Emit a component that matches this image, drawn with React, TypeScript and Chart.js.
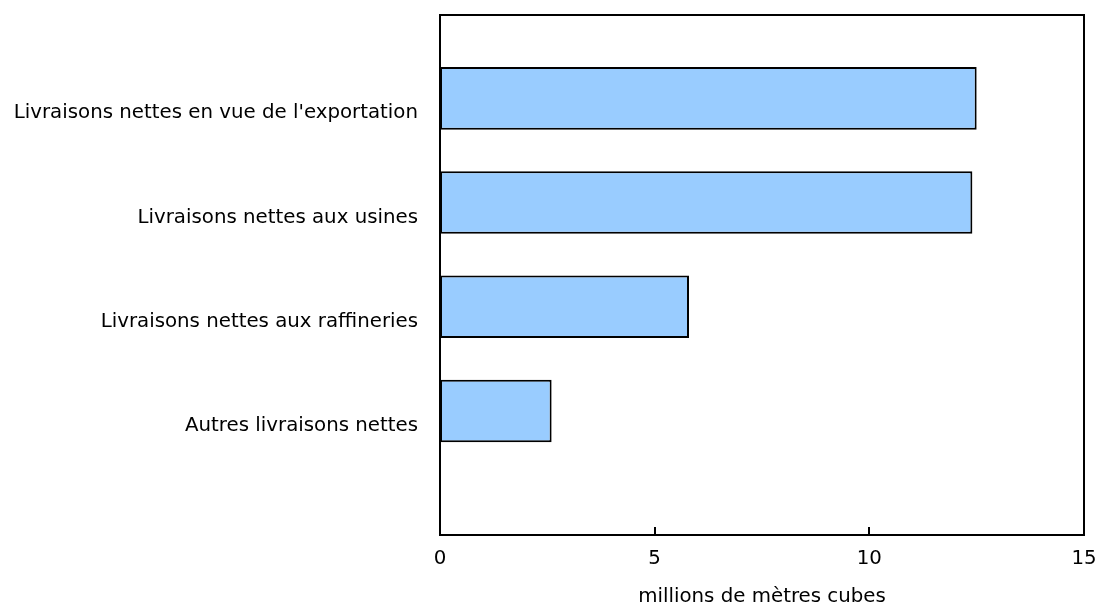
import React, { useEffect, useRef } from "react";
import { Chart, registerables } from "chart.js";

Chart.register(...registerables);

const categories = [
  "Livraisons nettes en vue de l'exportation",
  "Livraisons nettes aux usines",
  "Livraisons nettes aux raffineries",
  "Autres livraisons nettes",
];
const values = [12.5, 12.4, 5.8, 2.6];
const xTicks = [0, 5, 10, 15];
const xTitle = "millions de mètres cubes";

const FONT = "'DejaVu Sans', Verdana, sans-serif";
const FS = 19.8;

const framePlugin = {
  id: "frame",
  afterDraw(chart: any) {
    const { ctx, chartArea } = chart;
    const xs = chart.scales.x;
    ctx.save();
    ctx.strokeStyle = "#000";
    ctx.lineWidth = 2;
    ctx.strokeRect(chartArea.left, chartArea.top, chartArea.right - chartArea.left, chartArea.bottom - chartArea.top);
    xTicks.forEach((t) => {
      const px = Math.round(xs.getPixelForValue(t));
      ctx.beginPath();
      ctx.moveTo(px, chartArea.bottom);
      ctx.lineTo(px, chartArea.bottom - 8);
      ctx.stroke();
    });
    ctx.restore();
  },
};

const zeroPad = (s: any) => {
  s.paddingLeft = 0;
  s.paddingRight = 0;
  s.paddingTop = 0;
  s.paddingBottom = 0;
};

export default function App() {
  const ref = useRef<HTMLCanvasElement | null>(null);
  useEffect(() => {
    if (!ref.current) return;
    const chart = new Chart(ref.current, {
      type: "bar",
      data: {
        datasets: [
          {
            data: values.map((v, i) => ({ x: v, y: i })) as any,
            backgroundColor: "#99CCFF",
            borderColor: "#000",
            borderWidth: 2,
            borderSkipped: false,
            barPercentage: 0.6,
            categoryPercentage: 1,
          },
        ],
      },
      options: {
        indexAxis: "y",
        animation: false,
        responsive: false,
        layout: { padding: { top: 15, right: 14, left: 0, bottom: 0 } },
        plugins: { legend: { display: false }, tooltip: { enabled: false } },
        scales: {
          x: {
            type: "linear",
            min: 0,
            max: 15,
            grid: { display: false, drawTicks: false },
            border: { display: false },
            afterBuildTicks: (s: any) => {
              s.ticks = xTicks.map((v) => ({ value: v }));
            },
            afterFit: (s: any) => {
              s.height = 72;
              zeroPad(s);
            },
            ticks: {
              padding: 12,
              color: "#000",
              font: { family: FONT, size: FS },
            },
            title: {
              display: true,
              text: xTitle,
              color: "#000",
              font: { family: FONT, size: FS },
              padding: { top: 10, bottom: -2 },
            },
          },
          y: {
            type: "linear",
            reverse: true,
            offset: false,
            min: -0.8,
            max: 4.19,
            grid: { display: false, drawTicks: false },
            border: { display: false },
            afterBuildTicks: (s: any) => {
              s.ticks = categories.map((_, i) => ({ value: i }));
            },
            afterFit: (s: any) => {
              s.width = 440;
              zeroPad(s);
            },
            ticks: {
              padding: 22,
              labelOffset: 15,
              color: "#000",
              font: { family: FONT, size: FS },
              callback: (v: any) => categories[v as number] ?? "",
            },
          },
        },
      },
      plugins: [framePlugin],
    });
    return () => chart.destroy();
  }, []);
  return (
    <div style={{ position: "absolute", left: 0, top: 0, width: 1098, height: 607, background: "#fff" }}>
      <canvas ref={ref} width={1098} height={607} style={{ width: 1098, height: 607, display: "block" }} />
    </div>
  );
}
